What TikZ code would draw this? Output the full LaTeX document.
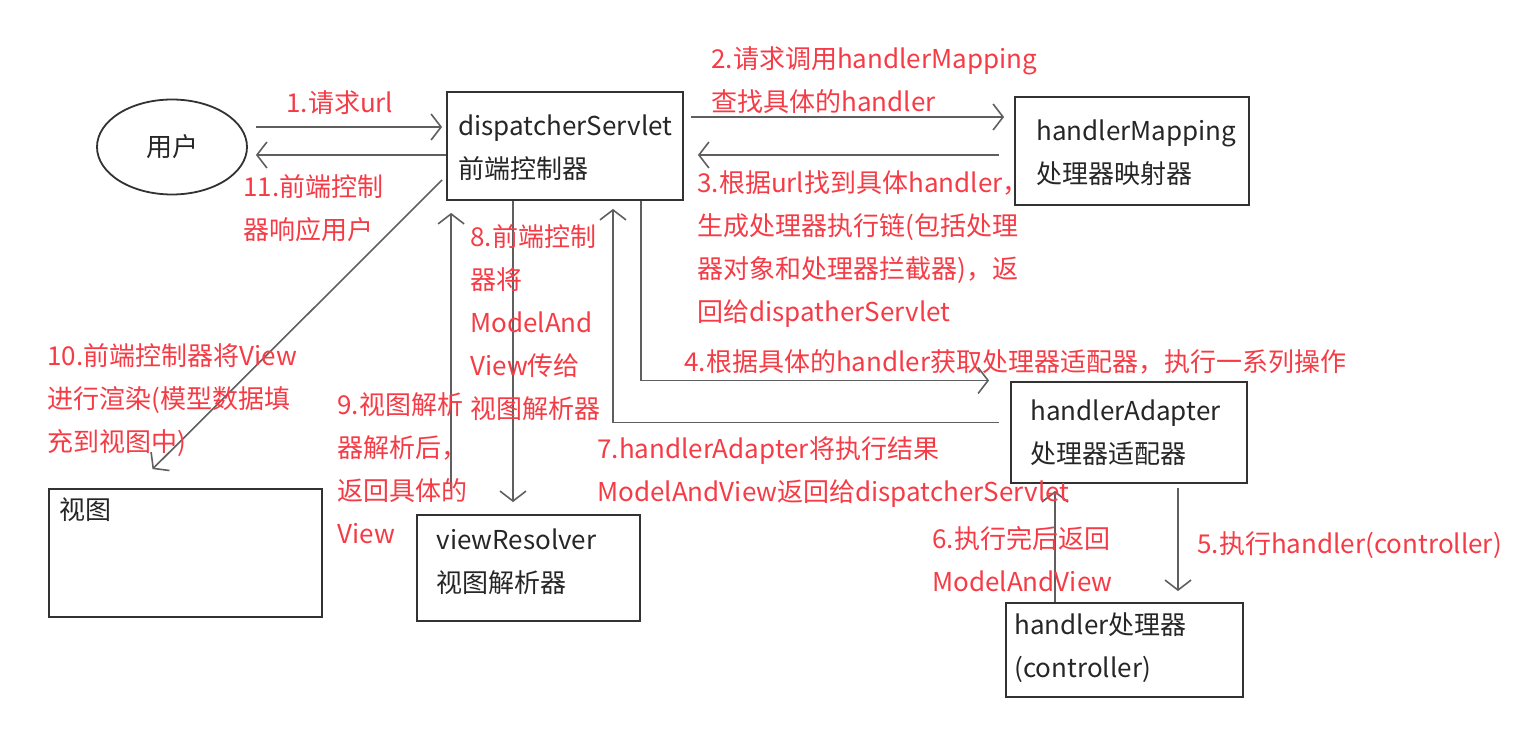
\documentclass[tikz,border=0pt]{standalone}
\usepackage{fontspec}
\setmainfont{Noto Sans CJK SC}
\usetikzlibrary{arrows.meta,calc,shapes.geometric}
\definecolor{labelred}{RGB}{245,60,70}
\definecolor{linegray}{RGB}{95,95,95}
\definecolor{boxline}{RGB}{50,50,50}

\begin{document}
\begin{tikzpicture}[x=0.5pt,y=-0.5pt,>={Straight Barb[length=5pt,width=13pt]},
  every node/.style={font=\fontsize{13pt}{21.5pt}\selectfont},
  box/.style={draw=boxline,line width=0.9pt},
  boxtext/.style={text=black!85,align=left,anchor=west,inner sep=0pt},
  lbl/.style={text=labelred,align=left,anchor=north west,inner sep=0pt},
  arr/.style={->,draw=linegray,line width=0.8pt}]
  \useasboundingbox (0,0) rectangle (1515,732);

  \node[box,ellipse,minimum width=75pt,minimum height=47.5pt,text=black!85] (user) at (172,147) {用户};
  \node[box,minimum width=118pt,minimum height=54pt] (disp) at (565,146) {};
  \node[boxtext] (disptxt) at ($(disp.west)+(12,2)$) {dispatcherServlet\\前端控制器};
  \node[box,minimum width=117pt,minimum height=54pt] (hm) at (1132,151) {};
  \node[boxtext] (hmtxt) at ($(hm.west)+(22,2)$) {handlerMapping\\处理器映射器};
  \node[box,minimum width=118pt,minimum height=50.5pt] (ha) at (1129,432.5) {};
  \node[boxtext] (hatxt) at ($(ha.west)+(20,0)$) {handlerAdapter\\处理器适配器};
  \node[box,minimum width=118.5pt,minimum height=47pt] (hd) at (1124.5,650) {};
  \node[boxtext] (hdtxt) at ($(hd.west)+(9,-2)$) {handler处理器\\(controller)};
  \node[box,minimum width=111.5pt,minimum height=53pt] (vr) at (528.5,568) {};
  \node[boxtext] (vrtxt) at ($(vr.west)+(20,-6)$) {viewResolver\\视图解析器};
  \node[box,minimum width=136.5pt,minimum height=64pt] (view) at (185.5,553) {};
  \node[boxtext,anchor=north west] (viewtxt) at ($(view.north west)+(11,9)$) {视图};

  \draw[arr] ($(user.east)+(8,-20)$) -- ($(user.east -| disp.west)+(-4,-20)$);
  \draw[arr] ($(user.east -| disp.west)+(0,8)$) -- ($(user.east)+(8,8)$);
  \draw[arr] ($(disp.east)+(7,-29)$) -- ($(disp.east -| hm.west)+(-10,-29)$);
  \draw[arr] ($(hm.west)+(-15,4)$) -- ($(hm.west -| disp.east)+(14,4)$);
  \draw[arr] ($(disp.south)+(76,0)$) |- ($(ha.west)+(-21,-52)$);
  \draw[arr] ($(ha.west)+(-11,-10)$) -| ($(disp.south)+(48,8)$);
  \draw[arr] ($(ha.south)+(49,4)$) -- ($(hd.north)+(53.5,-11)$);
  \draw[arr] ($(hd.north)+(-69.5,0)$) -- ($(ha.south)+(-74,7)$);
  \draw[arr] ($(disp.south)+(-52,0)$) -- ($(vr.north)+(-15.5,-12)$);
  \draw[arr] ($(vr.north west)+(35,-25)$) -- ($(disp.south west)+(5,12)$);
  \draw[arr] ($(disp.west)+(-4,34)$) -- ($(view.north)+(-33,-19)$);

  \node[lbl] (l1) at (286,90) {1.请求url};
  \node[lbl] (l11) at (243,174) {11.前端控制\\器响应用户};
  \node[lbl] (l2) at (711,46) {2.请求调用handlerMapping\\查找具体的handler};
  \node[lbl] (l3) at (697,170) {3.根据url找到具体handler，\\生成处理器执行链(包括处理\\器对象和处理器拦截器)，返\\回给dispatherServlet};
  \node[lbl] (l4) at (684,349) {4.根据具体的handler获取处理器适配器，执行一系列操作};
  \node[lbl] (l5) at (1197,531) {5.执行handler(controller)};
  \node[lbl] (l6) at (932,526) {6.执行完后返回\\ModelAndView};
  \node[lbl] (l7) at (597,436) {7.handlerAdapter将执行结果\\ModelAndView返回给dispatcherServlet};
  \node[lbl] (l8) at (470,224) {8.前端控制\\器将\\ModelAnd\\View传给\\视图解析器};
  \node[lbl] (l9) at (337,392) {9.视图解析\\器解析后，\\返回具体的\\View};
  \node[lbl] (l10) at (47,343) {10.前端控制器将View\\进行渲染(模型数据填\\充到视图中)};
\end{tikzpicture}
\end{document}
